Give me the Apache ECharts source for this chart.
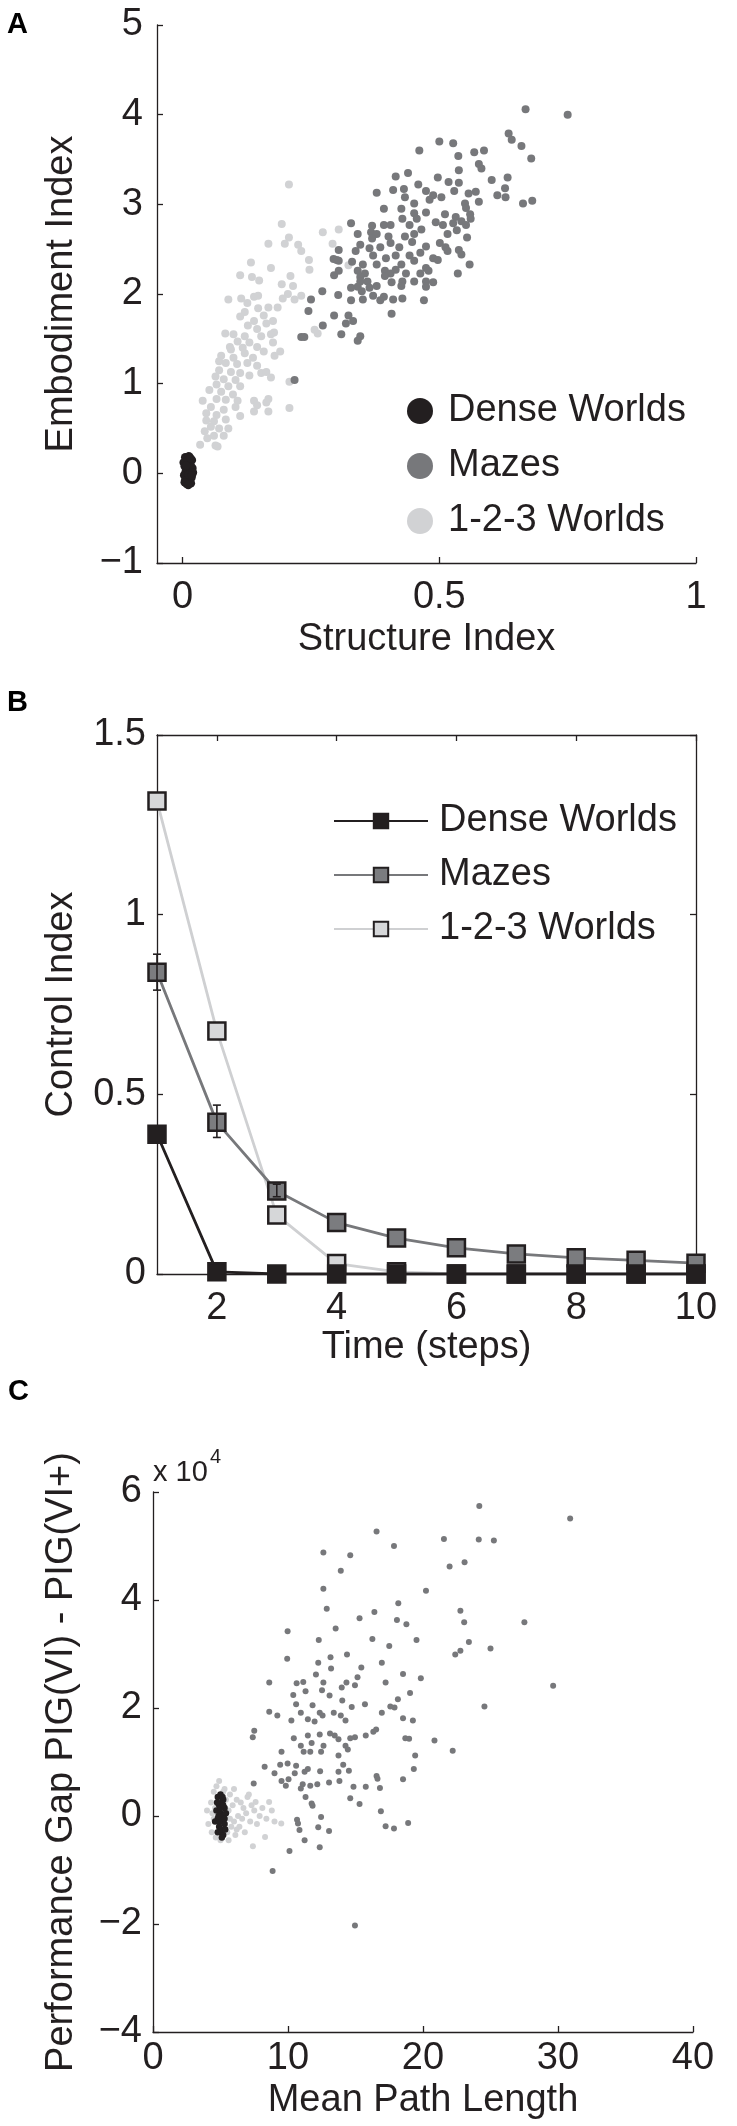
<!DOCTYPE html>
<html><head><meta charset="utf-8">
<script src="https://cdn.jsdelivr.net/npm/echarts@6/dist/echarts.min.js"></script>
<style>html,body{margin:0;padding:0;background:#fff}#c{width:737px;height:2126px}</style>
</head><body><div id="c"></div>
<script>
// ---------- Panel A: Structure Index vs Embodiment Index ----------
const aDense = [[0.005,0.18],[0.012,0.19],[0.018,0.15],[0.008,0.12],[0.015,0.10],[0.004,0.08],[0.011,0.05],[0.019,0.06],[0.006,0.02],[0.014,0.0],[0.020,0.01],[0.003,-0.02],[0.009,-0.04],[0.017,-0.05],[0.005,-0.08],[0.013,-0.09],[0.008,-0.12],[0.016,-0.11],[0.010,0.14],[0.002,0.12],[0.012,-0.01],[0.007,0.09],[0.018,-0.02],[0.004,-0.10],[0.011,-0.13],[0.015,0.17]];
const aMazes = [[0.668,4.06],[0.750,4.00],[0.635,3.79],[0.641,3.72],[0.660,3.65],[0.679,3.51],[0.461,3.60],[0.500,3.70],[0.527,3.68],[0.537,3.54],[0.568,3.58],[0.587,3.60],[0.577,3.45],[0.582,3.40],[0.439,3.35],[0.415,3.31],[0.459,3.22],[0.497,3.30],[0.518,3.25],[0.538,3.38],[0.602,3.27],[0.633,3.30],[0.628,3.18],[0.613,3.10],[0.629,3.08],[0.663,3.01],[0.681,3.04],[0.571,3.14],[0.557,3.12],[0.577,3.03],[0.550,3.01],[0.378,3.13],[0.410,3.16],[0.431,3.17],[0.433,3.08],[0.474,3.15],[0.488,3.10],[0.481,3.05],[0.504,3.08],[0.529,3.15],[0.538,3.24],[0.451,3.01],[0.426,2.95],[0.392,2.95],[0.451,2.90],[0.474,2.91],[0.511,2.89],[0.532,2.86],[0.560,2.89],[0.552,2.96],[0.543,2.81],[0.493,2.80],[0.507,2.77],[0.527,2.79],[0.552,2.77],[0.561,2.84],[0.428,2.84],[0.456,2.84],[0.442,2.77],[0.405,2.77],[0.392,2.77],[0.369,2.76],[0.367,2.69],[0.328,2.79],[0.378,2.67],[0.401,2.64],[0.433,2.64],[0.451,2.67],[0.465,2.72],[0.516,2.67],[0.534,2.71],[0.554,2.63],[0.341,2.67],[0.369,2.62],[0.447,2.58],[0.474,2.53],[0.501,2.57],[0.512,2.52],[0.516,2.48],[0.538,2.49],[0.405,2.57],[0.422,2.52],[0.385,2.52],[0.364,2.51],[0.346,2.55],[0.371,2.43],[0.396,2.40],[0.415,2.43],[0.442,2.43],[0.463,2.46],[0.488,2.40],[0.543,2.44],[0.337,2.48],[0.304,2.49],[0.304,2.37],[0.294,2.39],[0.330,2.36],[0.351,2.33],[0.378,2.33],[0.426,2.33],[0.451,2.37],[0.474,2.29],[0.497,2.38],[0.559,2.33],[0.536,2.23],[0.295,2.21],[0.304,2.26],[0.341,2.26],[0.355,2.23],[0.346,2.19],[0.394,2.26],[0.405,2.23],[0.415,2.27],[0.435,2.23],[0.463,2.23],[0.479,2.26],[0.394,2.20],[0.407,2.13],[0.428,2.14],[0.451,2.14],[0.474,2.14],[0.488,2.13],[0.346,2.14],[0.360,2.14],[0.341,2.08],[0.364,2.07],[0.378,2.09],[0.426,2.09],[0.474,2.08],[0.349,2.03],[0.328,2.07],[0.371,1.98],[0.392,1.97],[0.410,1.94],[0.428,1.95],[0.385,1.93],[0.470,1.93],[0.328,1.93],[0.351,1.94],[0.303,1.99],[0.250,1.94],[0.272,2.03],[0.245,1.81],[0.295,1.76],[0.323,1.76],[0.407,1.78],[0.332,1.70],[0.318,1.67],[0.273,1.65],[0.309,1.55],[0.346,1.53],[0.341,1.48],[0.231,1.52],[0.237,1.52],[0.218,1.04],[0.300,2.38]];
const aWorlds123 = [[0.207,3.22],[0.193,2.78],[0.207,2.63],[0.199,2.56],[0.167,2.56],[0.225,2.55],[0.231,2.48],[0.246,2.38],[0.273,2.69],[0.304,2.72],[0.292,2.56],[0.323,2.32],[0.247,2.27],[0.133,2.35],[0.172,2.29],[0.112,2.21],[0.135,2.19],[0.149,2.15],[0.210,2.20],[0.193,2.11],[0.215,2.09],[0.205,2.00],[0.231,1.98],[0.114,1.95],[0.139,1.97],[0.147,1.98],[0.089,1.94],[0.167,1.85],[0.147,1.84],[0.185,1.85],[0.121,1.80],[0.112,1.75],[0.158,1.76],[0.139,1.70],[0.176,1.70],[0.127,1.65],[0.163,1.67],[0.145,1.61],[0.178,1.57],[0.083,1.56],[0.099,1.55],[0.121,1.53],[0.153,1.53],[0.107,1.47],[0.130,1.46],[0.176,1.46],[0.263,1.56],[0.257,1.60],[0.092,1.41],[0.117,1.40],[0.145,1.41],[0.190,1.36],[0.179,1.31],[0.075,1.31],[0.099,1.29],[0.121,1.34],[0.137,1.29],[0.071,1.25],[0.084,1.23],[0.106,1.22],[0.126,1.23],[0.145,1.20],[0.153,1.12],[0.163,1.13],[0.172,1.07],[0.071,1.15],[0.094,1.13],[0.112,1.12],[0.130,1.09],[0.064,1.08],[0.080,1.05],[0.103,1.04],[0.208,1.02],[0.066,0.99],[0.089,0.97],[0.112,0.97],[0.052,0.93],[0.075,0.91],[0.098,0.88],[0.066,0.83],[0.084,0.82],[0.107,0.81],[0.039,0.81],[0.139,0.81],[0.167,0.83],[0.145,0.76],[0.163,0.79],[0.208,0.73],[0.055,0.74],[0.080,0.71],[0.103,0.74],[0.046,0.67],[0.066,0.65],[0.112,0.64],[0.139,0.69],[0.167,0.69],[0.046,0.59],[0.061,0.58],[0.084,0.60],[0.055,0.52],[0.071,0.50],[0.089,0.50],[0.043,0.47],[0.061,0.42],[0.080,0.42],[0.048,0.39],[0.034,0.32],[0.064,0.31],[0.068,0.30],[0.094,1.38],[0.158,1.36],[0.126,1.90],[0.195,1.95],[0.218,1.94],[0.172,1.55]];
const aXTicks = [0, 0.5, 1];

// ---------- Panel B: Control Index over time ----------
const bSteps = [1,2,3,4,5,6,7,8,9,10];
const bDense = [0.389,0.006,0.0,0.0,0.0,0.0,0.0,0.0,0.0,0.0];
const bMazes = [0.840,0.422,0.231,0.143,0.100,0.073,0.056,0.045,0.038,0.030];
const bWorlds123 = [1.316,0.676,0.164,0.029,0.006,0.0,0.0,0.0,0.0,0.0];
const bMazesErrLow = [0.79,0.38,0.215];
const bMazesErrHigh = [0.89,0.47,0.25];
const bXTicks = [2,4,6,8,10];

// ---------- Panel C: Mean Path Length vs Performance Gap (x 10^4) ----------
const cDense = [[4.8,0.35],[5.0,0.4],[5.2,0.3],[4.9,0.2],[5.1,0.25],[5.3,0.15],[4.7,0.1],[5.0,0.05],[5.2,0.0],[4.8,-0.05],[5.1,-0.1],[5.3,-0.15],[4.9,-0.2],[5.0,-0.3],[5.2,-0.35],[4.8,-0.3],[5.1,-0.4],[5.4,0.05],[4.6,-0.1],[5.0,0.15],[5.2,0.2],[4.9,-0.1],[5.3,-0.05],[5.05,-0.25],[4.75,0.25],[5.15,0.35],[5.35,-0.25],[4.85,0.0]];
const cMazes = [[24.17,5.74],[30.90,5.51],[16.56,5.27],[21.55,5.13],[24.13,5.12],[25.25,5.10],[17.85,5.00],[12.62,4.88],[14.61,4.83],[23.08,4.70],[21.97,4.62],[13.91,4.54],[20.22,4.17],[12.62,4.21],[12.87,3.84],[18.17,3.94],[22.77,3.80],[16.40,3.78],[15.30,3.66],[18.07,3.63],[18.77,3.55],[27.51,3.59],[23.05,3.59],[13.53,3.47],[9.97,3.42],[16.25,3.28],[12.28,3.26],[19.52,3.26],[17.50,3.15],[23.40,3.22],[25.00,3.10],[22.77,3.06],[22.39,2.99],[9.94,2.91],[14.37,2.99],[13.15,2.94],[16.95,2.84],[12.24,2.84],[15.43,2.75],[13.19,2.73],[18.52,2.63],[15.15,2.57],[12.07,2.62],[19.84,2.55],[8.61,2.47],[10.64,2.46],[11.13,2.48],[12.62,2.47],[14.33,2.47],[17.23,2.47],[13.98,2.38],[14.96,2.42],[10.39,2.24],[11.30,2.31],[12.52,2.33],[13.08,2.23],[14.02,2.14],[19.04,2.28],[18.14,2.16],[10.60,2.07],[11.82,2.05],[14.72,2.02],[15.70,2.07],[17.58,2.03],[17.89,2.01],[24.55,2.03],[8.61,1.93],[9.21,1.86],[10.95,1.91],[12.35,1.91],[12.56,1.86],[13.39,1.91],[13.91,1.86],[11.47,1.79],[10.25,1.77],[11.97,1.75],[14.26,1.77],[16.95,1.91],[18.52,1.81],[19.25,1.77],[16.53,1.60],[16.32,1.56],[7.50,1.58],[7.39,1.46],[11.47,1.49],[12.35,1.51],[13.11,1.53],[13.46,1.49],[13.74,1.42],[10.43,1.44],[10.95,1.30],[11.75,1.35],[12.63,1.30],[14.61,1.44],[15.76,1.49],[18.69,1.44],[18.97,1.43],[14.26,1.30],[14.96,1.46],[20.85,1.40],[29.64,2.41],[22.20,1.21],[9.52,1.19],[11.16,1.19],[11.65,1.19],[12.45,1.19],[14.43,1.23],[13.74,1.12],[19.42,1.12],[9.42,0.95],[9.97,0.97],[10.60,0.93],[11.47,0.87],[14.09,0.95],[19.32,0.87],[8.27,0.91],[14.51,0.84],[13.74,0.82],[10.50,0.79],[11.23,0.82],[9.00,0.79],[12.38,0.83],[16.56,0.74],[16.63,0.69],[18.52,0.68],[9.52,0.65],[10.04,0.68],[13.04,0.62],[13.81,0.65],[11.09,0.59],[11.65,0.56],[12.17,0.59],[7.46,0.60],[9.84,0.56],[10.95,0.51],[14.85,0.54],[15.76,0.54],[16.81,0.52],[11.30,0.35],[11.75,0.23],[11.82,0.19],[14.61,0.33],[15.30,0.22],[16.88,0.09],[12.45,-0.02],[10.67,-0.07],[10.74,-0.14],[10.85,-0.26],[12.24,-0.21],[11.23,-0.45],[12.35,-0.58],[10.11,-0.65],[17.23,-0.19],[17.85,-0.23],[18.90,-0.13],[8.86,-1.02],[14.96,-2.03],[13.04,-0.28]];
const cWorlds123 = [[4.0,0.1],[4.1,-0.15],[4.3,0.25],[4.35,-0.3],[4.5,0.45],[4.5,-0.05],[4.6,0.15],[4.65,-0.4],[4.7,0.55],[4.9,0.65],[5.0,-0.45],[5.3,0.5],[5.4,0.3],[5.5,-0.3],[5.6,0.1],[5.6,-0.45],[5.7,0.4],[5.8,-0.2],[5.9,0.2],[6.0,0.5],[6.0,-0.1],[6.1,-0.35],[6.2,0.3],[6.3,0.0],[6.4,-0.2],[6.5,0.25],[6.6,-0.05],[6.7,0.15],[6.8,-0.3],[6.9,0.05],[7.0,0.35],[7.1,0.4],[7.2,-0.1],[7.3,0.2],[7.4,-0.56],[7.5,0.1],[7.6,0.26],[7.7,-0.15],[7.9,0.0],[8.1,0.15],[8.3,-0.39],[8.4,-0.05],[8.6,0.26],[8.8,0.1],[9.0,-0.1],[9.5,-0.14],[5.2,0.45],[4.4,0.05],[6.2,-0.25],[5.7,-0.05]];

// ---------- styling ----------
const FONT = 'Liberation Sans, Arial, Helvetica, sans-serif';
const INK = '#231f20';
const C_DENSE = '#231f20', C_MAZE = '#77787b', C_123 = '#d1d2d4';
const lineStyle = {color: INK, width: 1.3};
const minusFmt = v => String(v).replace('-', '\u2212');
const labelStyle = {fontSize: 38, color: INK, fontFamily: FONT};

function axis(o) {
  return Object.assign({
    type: 'value',
    axisLine: {show: true, onZero: false, lineStyle},
    axisTick: {show: true, inside: true, length: 6, lineStyle},
    axisLabel: Object.assign({formatter: minusFmt}, labelStyle),
    splitLine: {show: false},
    nameTextStyle: labelStyle,
    nameLocation: 'middle'
  }, o);
}

const chart = echarts.init(document.getElementById('c'), null, {renderer: 'canvas'});
chart.setOption({
  backgroundColor: '#fff',
  animation: false,
  textStyle: {fontFamily: FONT},
  grid: [
    {left: 157, right: 41, top: 25, height: 538, outerBoundsMode: 'none'},
    {left: 157, right: 41, top: 735, height: 539, outerBoundsMode: 'none'},
    {left: 153, right: 44, top: 1492, height: 540, outerBoundsMode: 'none'}
  ],
  xAxis: [
    axis({gridIndex: 0, min: -0.05, max: 1, name: 'Structure Index', nameGap: 58,
      axisTick: {show: true, inside: true, length: 6, lineStyle, customValues: aXTicks},
      axisLabel: Object.assign({customValues: aXTicks, margin: 16, formatter: minusFmt}, labelStyle)}),
    axis({gridIndex: 1, min: 1, max: 10, name: 'Time (steps)', nameGap: 55,
      axisTick: {show: true, inside: true, length: 6, lineStyle, customValues: bXTicks},
      axisLabel: Object.assign({customValues: bXTicks, margin: 16}, labelStyle)}),
    axis({gridIndex: 1, min: 1, max: 10, position: 'top',
      axisTick: {show: true, inside: true, length: 6, lineStyle, customValues: bXTicks},
      axisLabel: {show: false}}),
    axis({gridIndex: 2, min: 0, max: 40, interval: 10, name: 'Mean Path Length', nameGap: 50,
      axisLabel: Object.assign({margin: 8}, labelStyle)})
  ],
  yAxis: [
    axis({gridIndex: 0, min: -1, max: 5, interval: 1, name: 'Embodiment Index', nameGap: 76,
      axisLabel: Object.assign({margin: 14, formatter: minusFmt}, labelStyle)}),
    axis({gridIndex: 1, min: 0, max: 1.5, interval: 0.5, name: 'Control Index', nameGap: 76,
      axisLabel: Object.assign({margin: 11}, labelStyle)}),
    axis({gridIndex: 1, min: 0, max: 1.5, interval: 0.5, position: 'right', axisLabel: {show: false}}),
    axis({gridIndex: 2, min: -4, max: 6, interval: 2, name: 'Performance Gap PIG(VI) - PIG(VI+)', nameGap: 72,
      axisLabel: Object.assign({margin: 11, formatter: minusFmt}, labelStyle)})
  ],
  legend: [
    {
      left: 402, top: 386, orient: 'vertical', itemWidth: 26, itemHeight: 26, itemGap: 15,
      icon: 'circle', data: ['Dense Worlds', 'Mazes', '1-2-3 Worlds'],
      textStyle: {fontSize: 38, color: INK, fontFamily: FONT, lineHeight: 40, padding: [0, 0, 0, 10]},
      selectedMode: false
    },
    {
      left: 328, top: 796, orient: 'vertical', itemWidth: 94, itemHeight: 18, itemGap: 14,
      data: ['Dense Worlds ', 'Mazes ', '1-2-3 Worlds '],
      textStyle: {fontSize: 38, color: INK, fontFamily: FONT, lineHeight: 40, padding: [0, 0, 0, 6]},
      selectedMode: false
    }
  ],
  graphic: [
    {type: 'text', left: 7, top: 10, style: {text: 'A', font: 'bold 29px ' + FONT, fill: '#000'}},
    {type: 'text', left: 7, top: 688, style: {text: 'B', font: 'bold 29px ' + FONT, fill: '#000'}},
    {type: 'text', left: 8, top: 1377, style: {text: 'C', font: 'bold 29px ' + FONT, fill: '#000'}},
    {type: 'text', left: 153, top: 1458, style: {text: 'x 10', font: '29px ' + FONT, fill: INK}},
    {type: 'text', left: 210, top: 1447, style: {text: '4', font: '20px ' + FONT, fill: INK}}
  ],
  series: [
    // Panel A
    {name: '1-2-3 Worlds', type: 'scatter', xAxisIndex: 0, yAxisIndex: 0, data: aWorlds123,
      symbolSize: 8, itemStyle: {color: C_123, opacity: 1}, z: 2},
    {name: 'Mazes', type: 'scatter', xAxisIndex: 0, yAxisIndex: 0, data: aMazes,
      symbolSize: 8, itemStyle: {color: C_MAZE, opacity: 1}, z: 3},
    {name: 'Dense Worlds', type: 'scatter', xAxisIndex: 0, yAxisIndex: 0, data: aDense,
      symbolSize: 8.5, itemStyle: {color: C_DENSE, opacity: 1}, z: 4},
    // Panel B
    {name: '1-2-3 Worlds ', type: 'line', xAxisIndex: 1, yAxisIndex: 1,
      data: bSteps.map((t, i) => [t, bWorlds123[i]]),
      symbol: 'rect', symbolSize: 17, lineStyle: {color: '#cfd0d2', width: 2.8},
      itemStyle: {color: '#d6d7d9', borderColor: INK, borderWidth: 2.5}, z: 2},
    {name: 'Mazes ', type: 'line', xAxisIndex: 1, yAxisIndex: 1,
      data: bSteps.map((t, i) => [t, bMazes[i]]),
      symbol: 'rect', symbolSize: 17, lineStyle: {color: C_MAZE, width: 2.8},
      itemStyle: {color: '#7b7c7f', borderColor: INK, borderWidth: 2.5}, z: 3},
    {name: 'Dense Worlds ', type: 'line', xAxisIndex: 1, yAxisIndex: 1,
      data: bSteps.map((t, i) => [t, bDense[i]]),
      symbol: 'rect', symbolSize: 17, lineStyle: {color: INK, width: 2.8},
      itemStyle: {color: C_DENSE, borderColor: INK, borderWidth: 2.5}, z: 4},
    {type: 'custom', xAxisIndex: 1, yAxisIndex: 1, z: 5,
      data: bMazesErrLow.map((lo, i) => [bSteps[i], lo, bMazesErrHigh[i]]),
      renderItem: function (params, api) {
        const p1 = api.coord([api.value(0), api.value(1)]);
        const p2 = api.coord([api.value(0), api.value(2)]);
        const w = 4, st = {stroke: INK, lineWidth: 1.6};
        return {type: 'group', children: [
          {type: 'line', shape: {x1: p1[0], y1: p1[1], x2: p2[0], y2: p2[1]}, style: st},
          {type: 'line', shape: {x1: p1[0] - w, y1: p1[1], x2: p1[0] + w, y2: p1[1]}, style: st},
          {type: 'line', shape: {x1: p2[0] - w, y1: p2[1], x2: p2[0] + w, y2: p2[1]}, style: st}
        ]};
      }},
    // Panel C
    {name: '1-2-3 Worlds  ', type: 'scatter', xAxisIndex: 3, yAxisIndex: 3, data: cWorlds123,
      symbolSize: 6, itemStyle: {color: C_123, opacity: 1}, z: 2},
    {name: 'Mazes  ', type: 'scatter', xAxisIndex: 3, yAxisIndex: 3, data: cMazes,
      symbolSize: 6, itemStyle: {color: C_MAZE, opacity: 1}, z: 3},
    {name: 'Dense Worlds  ', type: 'scatter', xAxisIndex: 3, yAxisIndex: 3, data: cDense,
      symbolSize: 6.5, itemStyle: {color: C_DENSE, opacity: 1}, z: 4}
  ]
});
</script></body></html>
